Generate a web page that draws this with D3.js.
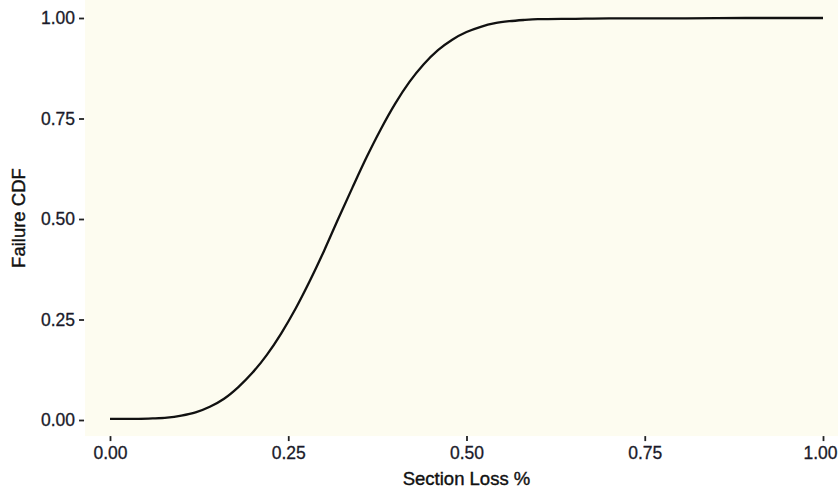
<!DOCTYPE html>
<html>
<head>
<meta charset="utf-8">
<script src="https://cdn.jsdelivr.net/npm/d3@7"></script>
<style>
  body { margin: 0; background: #ffffff; }
  svg { display: block; font-family: "Liberation Sans", Arial, sans-serif; }
</style>
</head>
<body>
<div id="chart"></div>
<script>
// section loss (fraction) and failure CDF
const sectionLoss = [0.00, 0.02, 0.04, 0.06, 0.08, 0.10, 0.12, 0.14, 0.16, 0.18,
  0.20, 0.22, 0.24, 0.26, 0.28, 0.30, 0.32, 0.34, 0.36, 0.38,
  0.40, 0.42, 0.44, 0.46, 0.48, 0.50, 0.52, 0.54, 0.56, 0.58,
  0.60, 0.65, 0.70, 0.80, 0.90, 1.00];
const failureCdf = [0.003, 0.003, 0.003, 0.004, 0.006, 0.011, 0.019, 0.033, 0.053, 0.082,
  0.118, 0.162, 0.215, 0.276, 0.345, 0.420, 0.500, 0.578, 0.654, 0.724,
  0.787, 0.841, 0.885, 0.920, 0.946, 0.965, 0.978, 0.987, 0.992, 0.995,
  0.997, 0.998, 0.999, 0.999, 1.000, 1.000];
const xTicks = [0, 0.25, 0.5, 0.75, 1];
const yTicks = [0, 0.25, 0.5, 0.75, 1];

const width = 838, height = 489;

const x = d3.scaleLinear().domain([0, 1]).range([110, 823]);
const y = d3.scaleLinear().domain([0, 1]).range([420, 18]);

const svg = d3.select("#chart")
  .append("svg")
  .attr("width", width)
  .attr("height", height);

// panel background (very faint cream, like the scan)
const panelLeft = x(-0.035), panelBottom = y(-0.04);
svg.append("rect")
  .attr("x", panelLeft)
  .attr("y", 0)
  .attr("width", width - panelLeft)
  .attr("height", panelBottom)
  .attr("fill", "#fdfcf0");

const data = sectionLoss.map((d, i) => ({ x: d, y: failureCdf[i] }));

svg.append("path")
  .datum(data)
  .attr("fill", "none")
  .attr("stroke", "#111")
  .attr("stroke-width", 2.3)
  .attr("d", d3.line().x(d => x(d.x)).y(d => y(d.y)).curve(d3.curveMonotoneX));

const xAxis = svg.append("g")
  .attr("transform", "translate(0," + panelBottom + ")")
  .call(d3.axisBottom(x).tickValues(xTicks).tickFormat(d3.format(".2f")).tickSize(5).tickPadding(5));

const yAxis = svg.append("g")
  .attr("transform", "translate(" + (panelLeft - 1) + ",0)")
  .call(d3.axisLeft(y).tickValues(yTicks).tickFormat(d3.format(".2f")).tickSize(5).tickPadding(4));

[xAxis, yAxis].forEach(g => {
  g.select(".domain").remove();
  g.selectAll(".tick line").attr("stroke", "#222").attr("stroke-width", 1.8);
  g.selectAll(".tick text")
    .attr("fill", "#1a1a2a")
    .attr("stroke", "#1a1a2a")
    .attr("stroke-width", 0.3)
    .style("font-size", "17.5px")
    .style("font-family", "'Liberation Sans', Arial, sans-serif");
});

// last x label sits on the right edge; nudge it so it stays inside
xAxis.selectAll(".tick text").filter(d => d === 1).attr("dx", -3);

svg.append("text")
  .attr("x", x(0.5))
  .attr("y", 485)
  .attr("text-anchor", "middle")
  .attr("fill", "#111")
  .attr("stroke", "#111")
  .attr("stroke-width", 0.4)
  .style("font-size", "18.5px")
  .text("Section Loss %");

svg.append("text")
  .attr("transform", "rotate(-90)")
  .attr("x", -panelBottom / 2)
  .attr("y", 25)
  .attr("text-anchor", "middle")
  .attr("fill", "#111")
  .attr("stroke", "#111")
  .attr("stroke-width", 0.4)
  .style("font-size", "18.5px")
  .text("Failure CDF");
</script>
</body>
</html>
